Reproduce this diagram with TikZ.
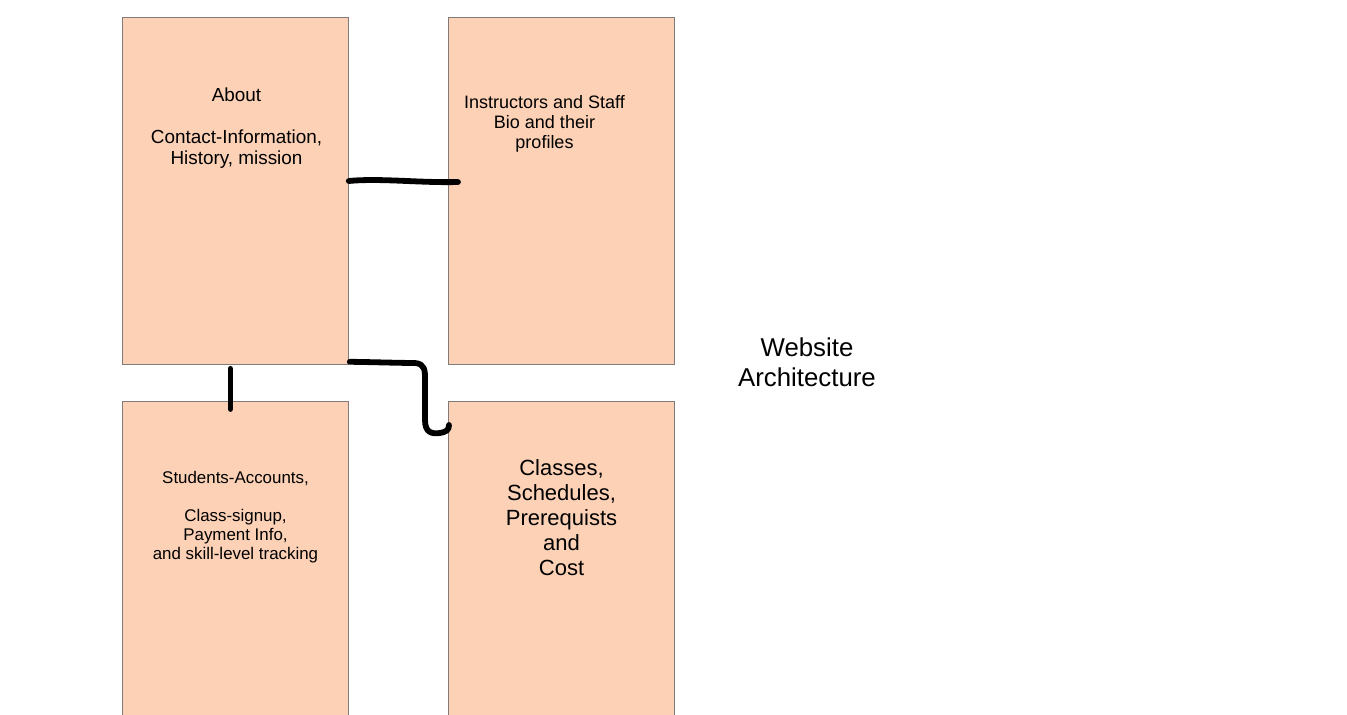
\documentclass[tikz,border=0pt]{standalone}
\usepackage{fontspec}
\setmainfont{Liberation Sans}
\usetikzlibrary{calc}
\definecolor{boxfill}{RGB}{252,209,182}
\definecolor{boxline}{RGB}{128,122,120}
\begin{document}
\begin{tikzpicture}[x=1pt,y=-1pt,
  page/.style={draw=boxline, line width=0.8pt, fill=boxfill, minimum width=226pt, anchor=north west, inner sep=0pt},
  lbl/.style={align=center, inner sep=0pt, text=black},
  stroke/.style={line width=5.8pt, line cap=round, line join=round, black}]
\useasboundingbox (0,0) rectangle (1347,715);
\fill[white] (0,0) rectangle (1347,715);
\clip (0,0) rectangle (1347,715);
\node[page, minimum height=347pt] (about) at (122,17) {};
\node[page, minimum height=347pt] (staff) at (448,17) {};
\node[page, minimum height=330pt] (students) at (122,401) {};
\node[page, minimum height=330pt] (classes) at (448,401) {};
\node[lbl, font=\fontsize{18.9}{21}\selectfont] (t1) at (236.5,128) {About\\[21pt]Contact-Information,\\History, mission};
\node[lbl, font=\fontsize{18}{20}\selectfont] (t2) at (544.5,123.5) {Instructors and Staff\\Bio and their\\profiles};
\node[lbl, font=\fontsize{16.9}{19}\selectfont] (t3) at (235.5,517) {Students-Accounts,\\[19pt]Class-signup,\\Payment Info,\\and skill-level tracking};
\node[lbl, font=\fontsize{22}{25}\selectfont] (t4) at (561.5,518) {Classes,\\Schedules,\\Prerequists\\and\\Cost};
\node[lbl, font=\fontsize{25.8}{30}\selectfont] (title) at (807,362) {Website\\Architecture};
\coordinate (a1) at ($(about.north east)+(0,164)$);
\coordinate (s1) at ($(staff.north west)+(10,165)$);
\draw[stroke] (a1) .. controls (380,178) and (420,183) .. (s1);
\coordinate (a2) at ($(about.south)+(-5,4)$);
\coordinate (b2) at ($(students.north)+(-5,8)$);
\draw[stroke] (a2) -- (b2);
\coordinate (a3) at ($(about.south east)+(1,-3)$);
\coordinate (c3) at ($(classes.north west)+(1,24)$);
\draw[stroke] (a3) .. controls (370,362) and (400,363) .. (415,363)
  .. controls (425,364) and (425,370) .. (425,380)
  -- (425,420)
  .. controls (425,433) and (432,434) .. (440,433)
  .. controls (446,432) and (449,430) .. (c3);
\end{tikzpicture}
\end{document}
